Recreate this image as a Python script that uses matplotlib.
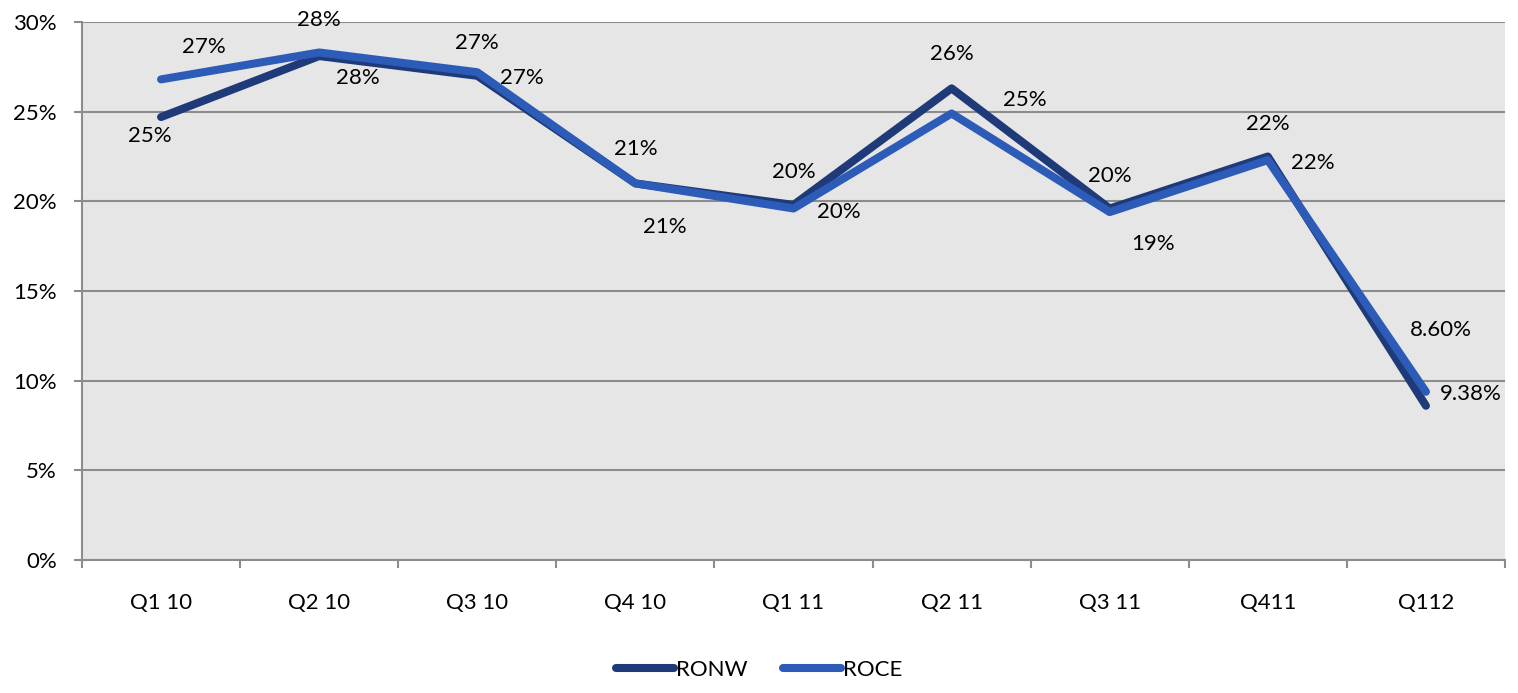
import matplotlib.pyplot as plt
import numpy as np

quarters = ["Q1 10", "Q2 10", "Q3 10", "Q4 10", "Q1 11", "Q2 11", "Q3 11", "Q411", "Q112"]
ronw = [24.7, 28.1, 27.0, 21.0, 19.8, 26.3, 19.6, 22.5, 8.6]
roce = [26.8, 28.3, 27.2, 21.0, 19.6, 24.9, 19.4, 22.3, 9.38]
ronw_labels = ["25%", "28%", "27%", "21%", "20%", "26%", "20%", "22%", "8.60%"]
roce_labels = ["27%", "28%", "27%", "21%", "20%", "25%", "19%", "22%", "9.38%"]

# label offsets in pixels (dx, dy)
ronw_off = [(-11, -19), (39, -22), (45, -2), (29, -44), (0, 33), (0, 34), (0, 33), (0, 32), (15, 76)]
roce_off = [(43, 32), (0, 32), (0, 29), (0, 34), (45, -3), (73, 13), (43, -32), (45, -3), (45, -2)]

plt.rcParams['font.family'] = ['Lato', 'DejaVu Sans']
fs = 16

fig = plt.figure(figsize=(15.18, 6.93), dpi=100)
ax = fig.add_axes([82/1518, 1 - 560/693, (1505-82)/1518, (560-22)/693])
ax.set_facecolor('#e6e6e6')

x = np.arange(len(quarters))
ax.plot(x, ronw, color='#1f3a78', lw=5.8, solid_capstyle='round', solid_joinstyle='round', label='RONW', zorder=3)
ax.plot(x, roce, color='#2c5cb8', lw=5.8, solid_capstyle='round', solid_joinstyle='round', label='ROCE', zorder=4)

for i in range(len(quarters)):
    ax.annotate(ronw_labels[i], (x[i], ronw[i]), xytext=ronw_off[i], textcoords='offset pixels',
                ha='center', va='center', fontsize=fs, color='black', zorder=5)
    ax.annotate(roce_labels[i], (x[i], roce[i]), xytext=roce_off[i], textcoords='offset pixels',
                ha='center', va='center', fontsize=fs, color='black', zorder=5)

ax.set_xlim(-0.5, len(quarters) - 0.5)
ax.set_ylim(0, 30)
ax.set_yticks(np.arange(0, 31, 5))
ax.set_yticklabels([f"{v}%" for v in range(0, 31, 5)])
ax.yaxis.grid(True, color='#8c8c8c', lw=1.5)
ax.set_axisbelow(True)

ax.set_xticks(x)
ax.set_xticklabels(quarters)
ax.set_xticks(np.arange(-0.5, len(quarters)), minor=True)
ax.tick_params(axis='x', which='major', length=0, pad=24, labelsize=fs)
ax.tick_params(axis='x', which='minor', length=6, width=1.5, color='#8c8c8c', direction='out')
ax.tick_params(axis='y', length=6, width=1.5, color='#8c8c8c', labelsize=fs, pad=12)

for s in ['top', 'right']:
    ax.spines[s].set_visible(False)
for s in ['left', 'bottom']:
    ax.spines[s].set_color('#8c8c8c')
    ax.spines[s].set_linewidth(1.5)

fig.legend(loc='center', bbox_to_anchor=(0.5, 1 - 670/693), ncol=2, frameon=False,
           fontsize=fs, handlelength=2.6, handletextpad=0.1, columnspacing=1.6)

plt.savefig('out.png', dpi=100)
